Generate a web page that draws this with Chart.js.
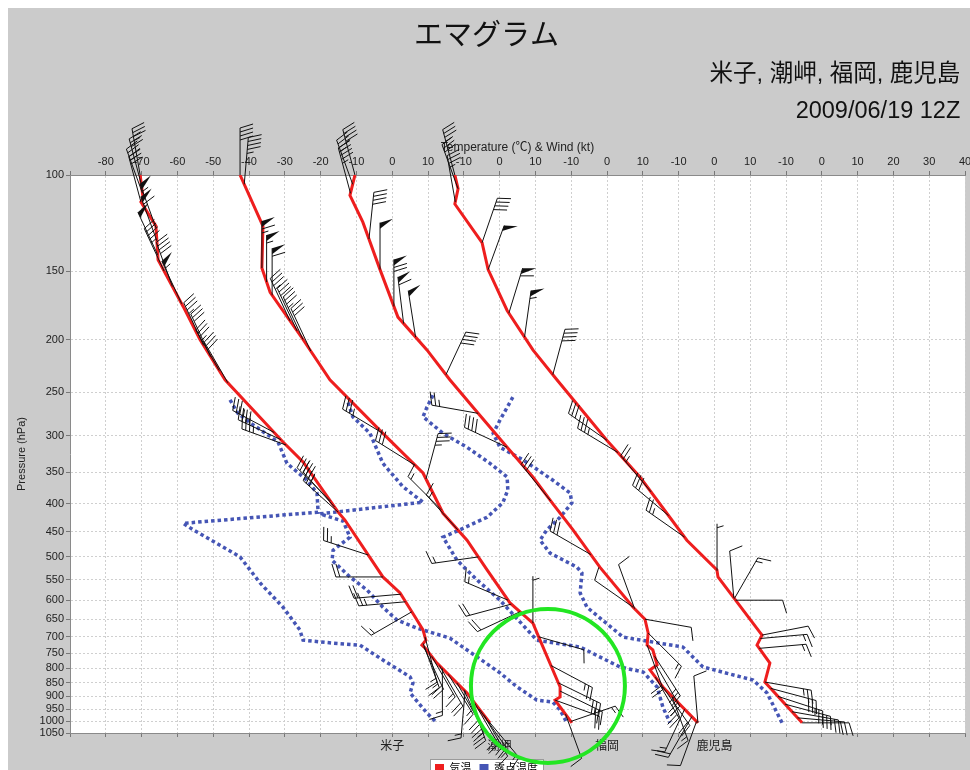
<!DOCTYPE html>
<html>
<head>
<meta charset="utf-8">
<title>エマグラム</title>
<script src="https://cdn.jsdelivr.net/npm/chart.js@4.4.0/dist/chart.umd.min.js"></script>
<style>
  html, body { margin: 0; padding: 0; background: #fff; overflow: hidden; }
  #emagram { position: absolute; left: 8px; top: 8px; }
</style>
</head>
<body>
<canvas id="emagram" width="962" height="776" style="width:962px;height:776px"></canvas>
<script>
/* Emagram: four soundings side by side (each shifted 30 °C on the shared axis),
   temperature (red), dew point (blue dots) and wind barbs along the temperature curve. */

const stations = ['米子', '潮岬', '福岡', '鹿児島'];
const stationOffsets = [0, 30, 60, 90];   // °C shift of each sounding on the common axis

const topTickLabels = ['', '-80', '-70', '-60', '-50', '-40', '-30', '-20', '-10', '0', '10',
  '-10', '0', '10', '-10', '0', '10', '-10', '0', '10', '-10', '0', '10', '20', '30', '40'];
const pressureTicks = [100, 150, 200, 250, 300, 350, 400, 450, 500, 550, 600, 650, 700,
  750, 800, 850, 900, 950, 1000, 1050];

const legendLabels = ['気温', '露点温度'];
const legendColors = ['#ee1e1e', '#4555b5'];

// [pressure hPa, °C]
const tempYonago = [[100,-70.4],[110,-69.6],[112,-70.2],[124,-66.0],[143,-65.4],[174,-58.4],
  [200,-53.7],[237,-46.7],[308,-30.5],[335,-24.9],[414,-15.1],[428,-13.2],[544,-2.6],[582,2.2],
  [644,6.4],[680,8.6],[710,9.4],[725,8.3],[734,9.2],[782,12.5],[887,20.9],[953,24.5],[1006,27.3]];
const dewYonago = [[258,-45.3],[273,-43.1],[284,-39.7],[308,-31.9],[337,-29.4],[362,-23.8],
  [382,-21.0],[414,-20.7],[434,-58.4],[446,-55.6],[500,-42.5],[558,-36.9],[618,-30.5],[680,-25.8],
  [710,-24.9],[719,-16.5],[725,-9.0],[772,-2.6],[829,5.0],[850,5.8],[887,5.0],[965,9.7],[1006,12.5]];

const tempShionomisaki = [[100,-72.5],[124,-66.1],[148,-66.4],[164,-64.1],[200,-54.9],[237,-47.4],
  [297,-32.6],[351,-21.4],[416,-15.8],[466,-9.1],[528,-3.5],[607,2.9],[661,9.3],[710,11.3],
  [865,16.9],[902,16.9],[914,15.5],[1006,20.2]];
const dewShionomisaki = [[261,-42.3],[277,-41.0],[297,-36.2],[337,-32.6],[372,-27.0],[397,-21.4],
  [417,-50.2],[430,-43.7],[460,-41.8],[486,-46.5],[507,-46.8],[544,-41.8],[575,-37.0],[618,-32.6],
  [652,-28.7],[675,-23.1],[704,-13.9],[762,-6.3],[815,0.1],[865,4.9],[914,10.4],[922,14.9],
  [953,16.9],[1006,18.8]];

const tempFukuoka = [[100,-70.4],[109,-71.8],[122,-68.2],[149,-63.4],[182,-58.4],[209,-50.3],
  [237,-43.9],[273,-36.0],[315,-27.9],[357,-20.7],[400,-15.1],[446,-9.5],[522,-2.0],[618,7.3],
  [650,10.6],[689,11.5],[725,11.2],[740,12.8],[788,14.0],[805,12.0],[865,15.6],[1006,25.4]];
const dewFukuoka = [[253,-48.6],[266,-50.3],[277,-51.4],[297,-45.8],[315,-39.1],[337,-32.7],
  [357,-27.9],[377,-27.7],[398,-29.1],[423,-33.5],[446,-41.1],[460,-45.8],[507,-41.9],[551,-36.3],
  [600,-29.9],[710,-19.6],[731,-7.5],[795,3.6],[812,10.1],[865,14.0],[941,15.6],[1006,17.6]];

const tempKagoshima = [[100,-72.5],[106,-71.6],[113,-72.5],[133,-64.9],[149,-63.2],[177,-57.9],
  [209,-50.7],[237,-44.0],[306,-30.0],[357,-20.8],[466,-7.7],[528,0.7],[544,1.0],[695,13.3],
  [725,11.9],[782,15.5],[847,14.1],[1006,24.5]];
const dewKagoshima = [[255,-56.3],[281,-59.9],[297,-61.8],[315,-59.9],[332,-53.5],[362,-45.1],
  [382,-40.3],[398,-39.8],[423,-43.1],[446,-46.8],[466,-48.7],[492,-45.9],[522,-38.4],[535,-37.0],
  [582,-37.5],[618,-35.6],[701,-25.5],[731,-8.8],[795,-3.2],[840,10.8],[887,14.7],[1006,18.9]];

// [pressure hPa, direction deg, speed kt]
const windYonago = [[100,350,35],[104,345,30],[108,340,35],[112,345,30],
  [125,340,55],[132,340,60],[140,335,50],[150,335,45],[160,340,40],[172,335,55],
  [205,335,35],[215,335,30],[228,330,35],[240,330,30],
  [296,298,35],[305,295,40],[312,290,35],[395,315,30],[405,318,35],[414,312,30],
  [496,288,25],[544,270,20],[585,265,20],[604,265,25],[630,240,15],
  [700,165,15],[720,160,15],[730,155,20],[760,150,15],[790,150,20],[800,180,15],[820,148,15],
  [850,150,20],[875,155,20],[880,185,15],[900,160,25],[925,150,20],[950,145,20],[975,150,15],
  [1000,140,15]];
const windShionomisaki = [[100,0,40],[104,5,45],
  [148,0,65],[157,0,55],[166,0,60],
  [185,335,35],[193,335,30],[200,335,35],[210,335,30],
  [297,301,35],[340,302,30],[360,15,35],[410,315,15],[446,318,15],[500,262,15],
  [600,293,15],[610,255,20],[630,245,20],[661,0,5],
  [700,106,10],[790,118,25],[850,116,30],[880,116,25],[914,110,20],[970,160,10],[1000,71,15]];
const windFukuoka = [[100,345,40],[104,340,35],[108,345,45],
  [131,6,40],[149,0,50],[174,0,70],[187,353,60],[198,351,50],[232,25,40],
  [273,280,25],[315,295,40],[395,321,30],[495,300,30],[618,305,10],[622,340,10],
  [650,100,10],[689,135,15],[725,160,20],[760,147,25],[790,150,20],[830,150,25],[865,145,20],
  [900,160,15],[950,205,15],[980,210,20],[1000,200,10],[1006,355,10]];
const windKagoshima = [[100,345,35],[106,340,30],[112,350,35],
  [133,19,40],[149,20,50],[179,17,60],[198,8,55],[232,15,40],
  [306,305,30],[322,301,35],[380,320,25],[420,310,30],[460,305,25],
  [530,0,5],[594,355,10],[596,30,15],[600,90,10],
  [695,79,10],[705,85,15],[735,85,15],
  [847,100,25],[870,105,30],[900,108,25],[930,105,30],[960,100,25],[985,95,20],[1006,90,10]];

const temps = [tempYonago, tempShionomisaki, tempFukuoka, tempKagoshima];
const dews = [dewYonago, dewShionomisaki, dewFukuoka, dewKagoshima];
const winds = [windYonago, windShionomisaki, windFukuoka, windKagoshima];

// green ring drawn over the picture (axis units of the common scale)
const highlightT = 43.5, highlightP = 861;

const FONT = "'Liberation Sans', 'Noto Sans CJK JP', sans-serif";
Chart.defaults.font.family = FONT;
Chart.defaults.color = '#222';

const BARB_STAFF = 47, BARB_FEATHER = 13, BARB_TILT = 4;

function tempAt(profile, p) {
  if (p <= profile[0][0]) return profile[0][1];
  for (let i = 1; i < profile.length; i++) {
    if (p <= profile[i][0]) {
      const [p0, t0] = profile[i - 1], [p1, t1] = profile[i];
      const f = (Math.log(p) - Math.log(p0)) / (Math.log(p1) - Math.log(p0));
      return t0 + f * (t1 - t0);
    }
  }
  return profile[profile.length - 1][1];
}

function drawBarb(ctx, bx, by, dir, kt) {
  const a = dir * Math.PI / 180;
  const sx = Math.sin(a), sy = -Math.cos(a);
  const fx = -sy * BARB_FEATHER + sx * BARB_TILT;
  const fy = sx * BARB_FEATHER + sy * BARB_TILT;
  const tx = bx + sx * BARB_STAFF, ty = by + sy * BARB_STAFF;
  ctx.beginPath(); ctx.moveTo(bx, by); ctx.lineTo(tx, ty); ctx.stroke();
  const at = k => [tx - sx * k, ty - sy * k];
  let rest = Math.round(kt / 5) * 5, d = 0;
  while (rest >= 50) {
    const [ax, ay] = at(d), [cx, cy] = at(d + 6);
    ctx.beginPath(); ctx.moveTo(ax, ay); ctx.lineTo(ax + fx, ay + fy); ctx.lineTo(cx, cy);
    ctx.closePath(); ctx.fill();
    d += 8; rest -= 50;
  }
  while (rest >= 10) {
    const [ax, ay] = at(d);
    ctx.beginPath(); ctx.moveTo(ax, ay); ctx.lineTo(ax + fx, ay + fy); ctx.stroke();
    d += 4; rest -= 10;
  }
  if (rest >= 5) {
    if (d === 0) d = 4;
    const [ax, ay] = at(d);
    ctx.beginPath(); ctx.moveTo(ax, ay); ctx.lineTo(ax + fx / 2, ay + fy / 2); ctx.stroke();
  }
}

const backdrop = {
  id: 'backdrop',
  beforeDraw(chart) {
    const {ctx, chartArea: ca, legend} = chart;
    ctx.save();
    ctx.fillStyle = '#cbcbcb';
    ctx.fillRect(0, 0, chart.width, chart.height);
    ctx.fillStyle = '#fff';
    ctx.fillRect(ca.left, ca.top, ca.right - ca.left, ca.bottom - ca.top);
    const hb = legend && legend.legendHitBoxes;
    if (hb && hb.length) {
      const l = Math.min(...hb.map(h => h.left)) - 5;
      const r = Math.max(...hb.map(h => h.left + h.width)) + 5;
      const t = hb[0].top - 4, h = hb[0].height + 8;
      ctx.fillRect(l, t, r - l, h);
      ctx.strokeStyle = '#9a9a9a';
      ctx.lineWidth = 1;
      ctx.strokeRect(Math.round(l) + 0.5, Math.round(t) + 0.5, Math.round(r - l), Math.round(h));
    }
    ctx.restore();
  }
};

const windBarbs = {
  id: 'windBarbs',
  afterDatasetsDraw(chart) {
    const {ctx, scales: {x, y}} = chart;
    ctx.save();
    ctx.strokeStyle = '#111';
    ctx.fillStyle = '#111';
    ctx.lineWidth = 1;
    stations.forEach((name, i) => {
      winds[i].forEach(([p, dir, kt]) => {
        const t = tempAt(temps[i], p) + stationOffsets[i];
        drawBarb(ctx, x.getPixelForValue(t), y.getPixelForValue(p), dir, kt);
      });
    });
    ctx.restore();
  }
};

const highlight = {
  id: 'highlight',
  afterDraw(chart) {
    const {ctx, scales: {x, y}} = chart;
    ctx.save();
    ctx.strokeStyle = '#22e622';
    ctx.lineWidth = 4;
    ctx.beginPath();
    ctx.arc(x.getPixelForValue(highlightT), y.getPixelForValue(highlightP), 77, 0, Math.PI * 2);
    ctx.stroke();
    ctx.restore();
  }
};

const datasets = [];
stations.forEach((name, i) => {
  const off = stationOffsets[i];
  datasets.push({
    label: legendLabels[0] + ' ' + name,
    data: temps[i].map(([p, t]) => ({x: t + off, y: p})),
    borderColor: legendColors[0], borderWidth: 3, pointRadius: 0, fill: false, tension: 0
  });
  datasets.push({
    label: legendLabels[1] + ' ' + name,
    data: dews[i].map(([p, t]) => ({x: t + off, y: p})),
    borderColor: legendColors[1], borderWidth: 3.5, borderDash: [3.5, 3],
    pointRadius: 0, fill: false, tension: 0
  });
});

const everyTen = scale => {
  scale.ticks = [];
  for (let v = -90; v <= 160; v += 10) scale.ticks.push({value: v});
};

const gridStyle = {color: '#cfcfcf', lineWidth: 1, tickLength: 4, tickColor: '#777'};
const borderStyle = {display: true, color: '#8a8a8a', dash: [2, 2]};

new Chart(document.getElementById('emagram'), {
  type: 'line',
  data: {datasets},
  plugins: [backdrop, windBarbs, highlight],
  options: {
    responsive: false,
    animation: false,
    events: [],
    devicePixelRatio: 1,
    layout: {padding: {left: 0, right: 5, top: 0, bottom: 0}},
    plugins: {
      title: {
        display: true, text: 'エマグラム', color: '#111',
        font: {size: 29, weight: 'normal'}, padding: {top: 12, bottom: 0}
      },
      subtitle: {
        // trailing thin space keeps the right edge a little inside the frame
        display: true, text: ['米子, 潮岬, 福岡, 鹿児島\u2009', '2009/06/19 12Z\u2009'], align: 'end',
        color: '#111', font: {size: 23.5, lineHeight: 1.58}, padding: {top: 1.44, bottom: 0}
      },
      legend: {
        position: 'bottom',
        labels: {
          boxWidth: 9, boxHeight: 9, padding: 8, color: '#111', font: {size: 11},
          generateLabels: () => legendLabels.map((text, i) => ({
            text, fillStyle: legendColors[i], strokeStyle: legendColors[i],
            lineWidth: 0, hidden: false, datasetIndex: i
          }))
        }
      },
      tooltip: {enabled: false}
    },
    scales: {
      x: {
        type: 'linear', position: 'top', min: -90, max: 160,
        afterBuildTicks: everyTen,
        afterFit: s => { s.height = 44.5; s.paddingLeft = 0; s.paddingRight = 0; },
        ticks: {
          autoSkip: false, maxRotation: 0, padding: 2, color: '#222', font: {size: 11},
          callback: v => topTickLabels[Math.round((v + 90) / 10)]
        },
        grid: gridStyle,
        border: borderStyle,
        title: {
          display: true, text: 'Temperature (℃) & Wind (kt)', color: '#222',
          font: {size: 12}, padding: {top: 9.5, bottom: 0}
        }
      },
      x2: {
        type: 'linear', position: 'bottom', min: -90, max: 160,
        afterBuildTicks: everyTen,
        afterFit: s => { s.height = 22; s.paddingLeft = 0; s.paddingRight = 0; },
        ticks: {
          autoSkip: false, maxRotation: 0, padding: 2, color: '#222', font: {size: 12},
          callback: v => {
            const i = stationOffsets.indexOf(v);
            return i >= 0 ? stations[i] : '';
          }
        },
        grid: {drawOnChartArea: false, tickLength: 4, tickColor: '#777'},
        border: {display: true, color: '#8a8a8a'}
      },
      y: {
        type: 'logarithmic', position: 'left', reverse: true, min: 100, max: 1050,
        afterBuildTicks: s => { s.ticks = pressureTicks.map(v => ({value: v})); },
        afterFit: s => { s.width = 62; },
        ticks: {autoSkip: false, padding: 2, color: '#222', font: {size: 11}, callback: v => String(v)},
        grid: gridStyle,
        border: borderStyle,
        title: {
          display: true, text: 'Pressure (hPa)', color: '#222',
          font: {size: 11}, padding: {top: 7.4, bottom: 0}
        }
      }
    }
  }
});
</script>
</body>
</html>
